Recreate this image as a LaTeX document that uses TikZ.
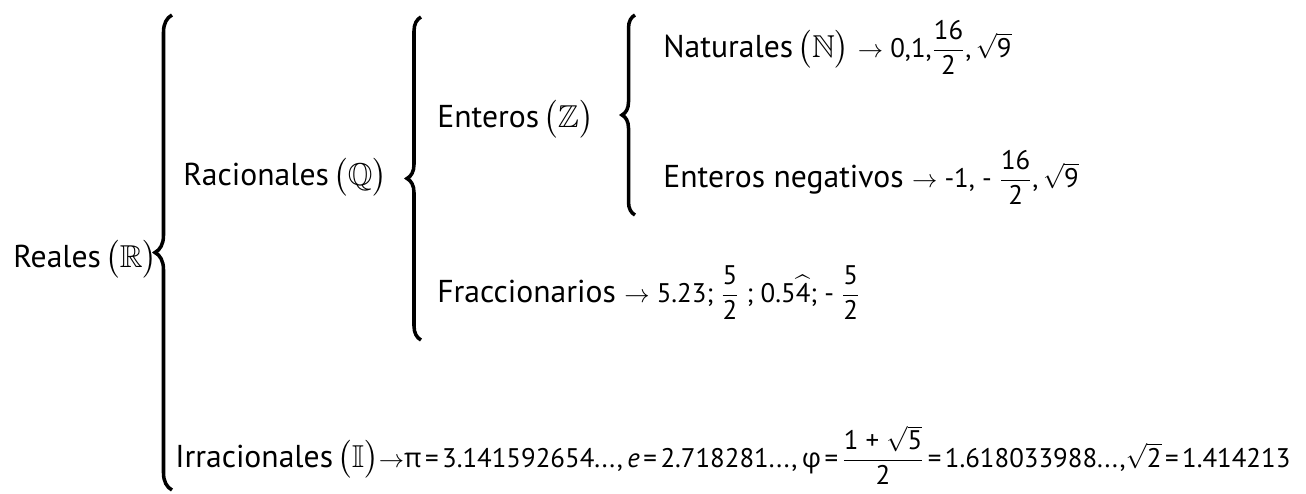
\documentclass[tikz,border=0pt]{standalone}
\usepackage{amsmath,amssymb}
\usepackage{fontspec}
\setmainfont{PT Sans}
\newfontfamily\griega{Open Sans}
\usepackage{tikz}
\usetikzlibrary{decorations.pathreplacing}

\newcommand{\fr}[2]{$\dfrac{\text{#1}}{\text{#2}}$}
\newcommand{\conj}[1]{\kern2.5pt$\bigl(\mathbb{#1}\bigr)$}
\newcommand{\vals}[1]{{\fontsize{15.3}{18}\selectfont #1}}
\newcommand{\igual}{\kern2pt=\kern2pt}

\begin{document}
\begin{tikzpicture}[
    lbl/.style={anchor=base west, inner sep=0pt, font=\fontsize{18}{21}\selectfont},
    llave/.style={decorate, decoration={brace, amplitude=#1}, line width=2pt},
    llave/.default=0.3cm
]
\useasboundingbox (0,0) rectangle (26.12,-9.86);

% Reales
\node[lbl] (reales) at (0.26,-5.34) {Reales\conj{R}};
\coordinate (b1bot) at (3.44,-9.8);
\coordinate (b1top) at (3.44,-0.3);
\draw[llave=0.34cm] (b1bot) -- (b1top);

% Racionales
\node[lbl] (racionales) at (3.66,-3.7) {Racionales\conj{Q}};
\coordinate (b2bot) at (8.42,-6.8);
\coordinate (b2top) at (8.42,-0.34);
\draw[llave=0.28cm] (b2bot) -- (b2top);

% Enteros
\node[lbl] (enteros) at (8.74,-2.54) {Enteros\conj{Z}};
\coordinate (b3bot) at (12.7,-4.3);
\coordinate (b3top) at (12.7,-0.3);
\draw[llave=0.26cm] (b3bot) -- (b3top);

\node[lbl] (naturales) at (13.26,-1.14)
    {Naturales\conj{N} \vals{$\to$ 0,1,\fr{16}{2},\,$\sqrt{\text{9}}$}};
\node[lbl] (negativos) at (13.26,-3.74)
    {Enteros negativos \vals{$\to$ -1, - \fr{16}{2},\,$\sqrt{\text{9}}$}};

% Fraccionarios
\node[lbl] (fracc) at (8.74,-6.04)
    {Fraccionarios \vals{$\to$ 5.23; \fr{5}{2} ; 0.5$\widehat{\text{4}}$; - \fr{5}{2}}};

% Irracionales
\node[lbl] (irrac) at (3.5,-9.34)
    {Irracionales\conj{I}\vals{$\to${\griega π}\igual 3.141592654...,\,\textit{e}\igual 2.718281...,\,{\griega φ}\igual\fr{1 + $\sqrt{\text{5}}$}{2}\igual 1.618033988...,$\sqrt{\text{2}}$\igual 1.414213}};

\end{tikzpicture}
\end{document}
